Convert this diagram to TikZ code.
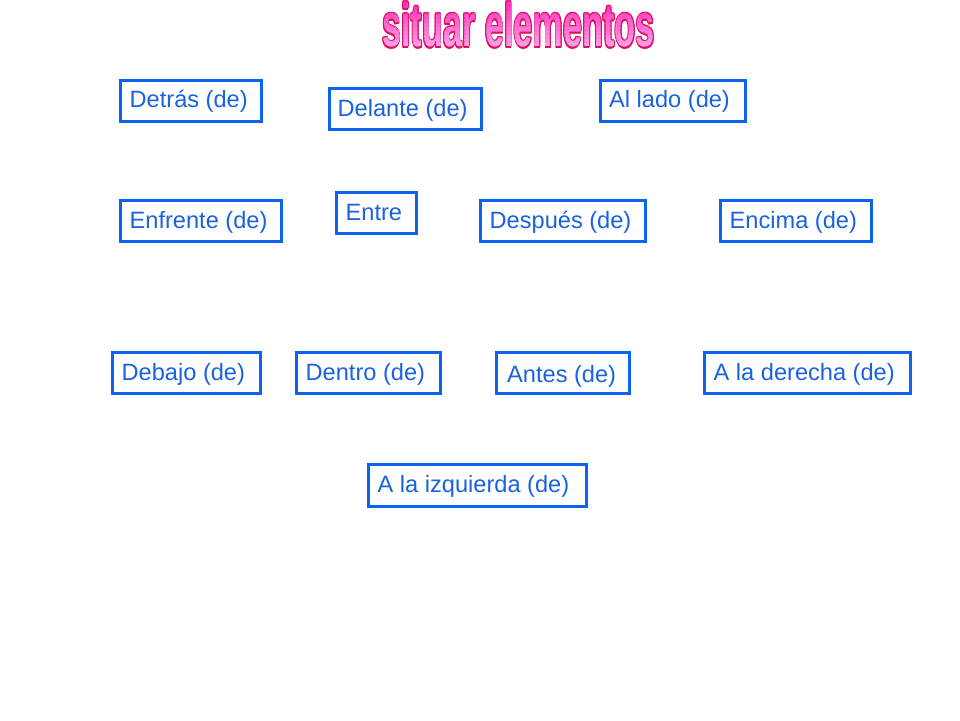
\documentclass[tikz,border=0pt]{standalone}
\usepackage{fontspec}
\setmainfont{Liberation Sans}
\definecolor{boxblue}{HTML}{0A64F0}
\definecolor{txtblue}{HTML}{1A62E0}
\definecolor{ttlA}{HTML}{FF2AB4}
\definecolor{ttlB}{HTML}{FFA8EC}
\definecolor{ttledge}{HTML}{DD1060}
\newcommand\ttlfont{\fontsize{61.5pt}{70pt}\selectfont\bfseries}
\tikzset{
  boxst/.style={draw=boxblue, line width=3pt, inner sep=0pt, fill=none},
  lbl/.style={inner sep=0pt, text=txtblue, font=\fontsize{23.6pt}{27pt}\selectfont},
  ttl/.style={inner sep=0pt, xscale=0.558, transform shape, font=\ttlfont, anchor=center}
}
% name, x1, y1, x2, y2, text x, baseline y, text
\newcommand\lbox[8]{%
  \node[boxst, minimum width={#4-#2-3}, minimum height={#5-#3-3}] (#1) at ({(#2+#4)/2},{-(#3+#5)/2}) {};
  \node[lbl, anchor=base west] (#1t) at ({#6},{-#7}) {#8};}
\begin{document}
\begin{tikzpicture}[x=1pt,y=1pt]
  \useasboundingbox (0,0) rectangle (960,-720);
  \fill[white] (0,0) rectangle (960,-720);
  % title outline
  \foreach \a in {0,30,...,330}
    \node[ttl, text=ttledge, shift={(\a:1.4pt)}] (ttlo\a) at (518.5,-25) {situar elementos};
  % title fill, graded from magenta (top) to light pink (bottom)
  \foreach \i [evaluate=\i as \p using {int(\i*100/12)}] in {0,...,12} {
    \begin{scope}
      \clip (360,{-4*\i+0.6}) rectangle (680,{-4*\i-4.6});
      \node[ttl, text=ttlB!\p!ttlA] (ttlf\i) at (518.5,-25) {situar elementos};
    \end{scope}
  }
  % boxes
  \lbox{detras}{119}{79}{263}{123}{129.5}{107}{Detrás (de)}
  \lbox{delante}{328}{87}{483}{131}{337.5}{116}{Delante (de)}
  \lbox{allado}{599}{79}{747}{123}{609}{107}{Al lado (de)}
  \lbox{enfrente}{119}{199}{283}{243}{129.5}{228}{Enfrente (de)}
  \lbox{entre}{335}{191}{418}{235}{345.5}{220}{Entre}
  \lbox{despues}{479}{199}{647}{243}{489.5}{228}{Después (de)}
  \lbox{encima}{719}{199}{873}{243}{729.5}{228}{Encima (de)}
  \lbox{debajo}{111}{351}{262}{395}{121.5}{380}{Debajo (de)}
  \lbox{dentro}{295}{351}{442}{395}{305.5}{380}{Dentro (de)}
  \lbox{antes}{495}{351}{631}{395}{507}{382}{Antes (de)}
  \lbox{derecha}{703}{351}{912}{395}{713.5}{380}{A la derecha (de)}
  \lbox{izquierda}{367}{463}{588}{508}{377.5}{492}{A la izquierda (de)}
\end{tikzpicture}
\end{document}
